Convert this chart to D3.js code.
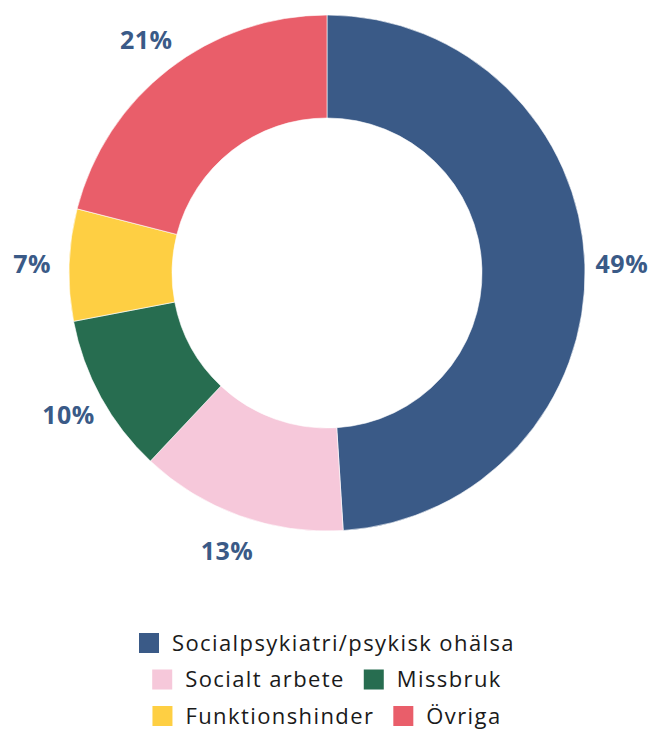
<!DOCTYPE html>
<html>
<head>
<meta charset="utf-8">
<script src="https://cdn.jsdelivr.net/npm/d3@7"></script>
<style>
  body { margin: 0; background: #fff; }
  svg text { font-family: "Open Sans", "Lato", sans-serif; }
</style>
</head>
<body>
<div id="chart"></div>
<script>
var categories = ["Socialpsykiatri/psykisk ohälsa", "Socialt arbete", "Missbruk", "Funktionshinder", "Övriga"];
var values = [49, 13, 10, 7, 21];
var colors = ["#3a5a87", "#f6c8da", "#276d50", "#fecf43", "#e95e6a"];
var legendRows = [[0], [1, 2], [3, 4]];

var width = 651, height = 729;
var cx = 327, cy = 273;
var outerR = 258, innerR = 155, labelR = 295;

var svg = d3.select("#chart").append("svg")
  .attr("width", width)
  .attr("height", height);

var data = categories.map(function(c, i){ return {name: c, value: values[i], color: colors[i]}; });

var pie = d3.pie().sort(null).value(function(d){ return d.value; });
var arc = d3.arc().innerRadius(innerR).outerRadius(outerR);
var labelArc = d3.arc().innerRadius(labelR).outerRadius(labelR);

var g = svg.append("g").attr("transform", "translate(" + cx + "," + cy + ")");

var arcs = pie(data);

g.selectAll("path")
  .data(arcs)
  .enter()
  .append("path")
  .attr("d", arc)
  .attr("fill", function(d){ return d.data.color; })
  .attr("stroke", "#fff")
  .attr("stroke-width", 0.6);

g.selectAll("text.pct")
  .data(arcs)
  .enter()
  .append("text")
  .attr("class", "pct")
  .attr("transform", function(d){ return "translate(" + labelArc.centroid(d) + ")"; })
  .attr("text-anchor", "middle")
  .attr("dy", "0.36em")
  .attr("font-size", 25)
  .attr("font-weight", 700)
  .attr("letter-spacing", 0.5)
  .attr("fill", "#3a5a87")
  .text(function(d){ return d.data.value + "%"; });

// legend, rows centred under the donut
var sq = 20, gapText = 13, gapItem = 19, rowY0 = 643, rowStep = 36.5;
var legend = svg.append("g");

legendRows.forEach(function(row, r){
  var rowG = legend.append("g");
  var x = 0;
  row.forEach(function(idx){
    var item = rowG.append("g").attr("transform", "translate(" + x + ",0)");
    item.append("rect")
      .attr("x", 0).attr("y", -sq / 2)
      .attr("width", sq).attr("height", sq)
      .attr("fill", colors[idx]);
    var t = item.append("text")
      .attr("x", sq + gapText)
      .attr("dy", "0.35em")
      .attr("font-size", 22)
      .attr("letter-spacing", 1.4)
      .attr("fill", "#1a1a1a")
      .text(categories[idx]);
    x += sq + gapText + t.node().getComputedTextLength() + gapItem;
  });
  var w = x - gapItem;
  rowG.attr("transform", "translate(" + (cx - w / 2) + "," + (rowY0 + r * rowStep) + ")");
});
</script>
</body>
</html>
